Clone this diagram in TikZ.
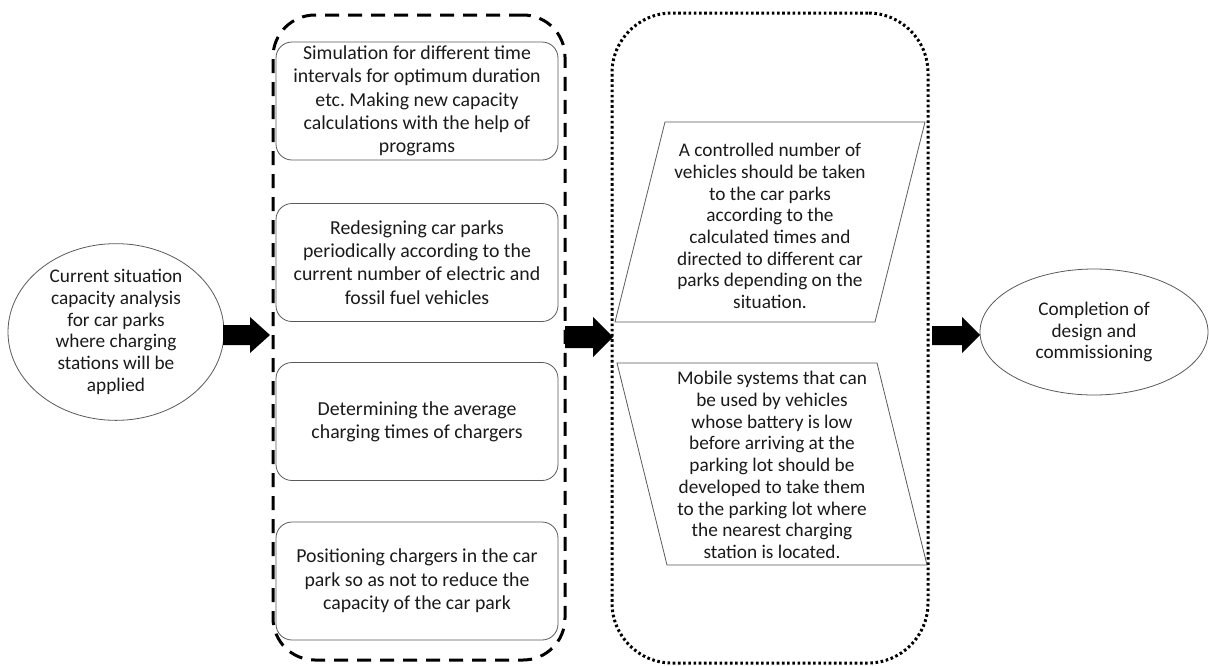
\documentclass[tikz,border=0pt]{standalone}
\usepackage{fontspec}
\setmainfont{Carlito}
\frenchspacing
\usetikzlibrary{shapes.geometric}
\definecolor{edge}{HTML}{595959}
\definecolor{ink}{HTML}{1A1A1A}
\tikzset{
  boxbig/.style={font=\fontsize{19.8}{23.3}\selectfont},
  boxsmall/.style={font=\fontsize{19.3}{21.7}\selectfont},
  roundbox/.style={draw=edge, line width=0.8pt, rounded corners=16pt, minimum width=282pt, minimum height=118pt, align=center, text=ink, boxbig, inner sep=0pt},
  oval/.style={draw=edge, line width=0.8pt, ellipse, align=center, text=ink, boxsmall, inner sep=0pt},
  paraedge/.style={draw=edge, line width=0.8pt},
  paratext/.style={align=center, text=ink, boxsmall, inner sep=0pt},
  dashgroup/.style={draw=black, line width=3pt, dash pattern=on 14pt off 9pt, rounded corners=42pt, minimum width=292pt, minimum height=645pt, inner sep=0pt},
  dotgroup/.style={draw=black, line width=3pt, dash pattern=on 2.6pt off 2.6pt, rounded corners=60pt, minimum width=316pt, minimum height=650pt, inner sep=0pt},
  blockarrow/.style={fill=black}
}
\begin{document}
\begin{tikzpicture}[x=1pt,y=-1pt]
\useasboundingbox (0,0) rectangle (1209,665);
% groups
\node[dashgroup] (grpA) at (419,337.5) {};
\node[dotgroup] (grpB) at (770,338) {};
% left ellipse
\node[oval, minimum width=216pt, minimum height=126pt] (start) at (116,332)
  {Current situation\\capacity analysis\\for car parks\\where charging\\stations will be\\applied};
% boxes
\node[roundbox] (b1) at (417,101)
  {Simulation for different time\\intervals for optimum duration\\etc. Making new capacity\\calculations with the help of\\programs};
\node[roundbox] (b2) at (417,262.5)
  {Redesigning car parks\\periodically according to the\\current number of electric and\\fossil fuel vehicles};
\node[roundbox] (b3) at (417,421.5)
  {Determining the average\\charging times of chargers};
\node[roundbox] (b4) at (417,581)
  {Positioning chargers in the car\\park so as not to reduce the\\capacity of the car park};
% parallelograms
\draw[paraedge] (665,122) -- (925,122) -- (875,322) -- (615,322) -- cycle;
\node[paratext] (p1) at (770,226)
  {A controlled number of\\vehicles should be taken\\to the car parks\\according to the\\calculated times and\\directed to different car\\parks depending on the\\situation.};
\draw[paraedge] (617,363) -- (877,363) -- (927,565) -- (667,565) -- cycle;
\node[paratext] (p2) at (772,465)
  {Mobile systems that can\\be used by vehicles\\whose battery is low\\before arriving at the\\parking lot should be\\developed to take them\\to the parking lot where\\the nearest charging\\station is located.};
% right ellipse
\node[oval, minimum width=228pt, minimum height=126pt] (finish) at (1094,332)
  {Completion of\\design and\\commissioning};
% block arrows
\fill[blockarrow] (223,325) -- (250,325) -- (250,317) -- (270,335) -- (250,353) -- (250,345) -- (223,345) -- cycle;
\fill[blockarrow] (565,326) -- (593,326) -- (593,317) -- (613,337) -- (593,357) -- (593,348) -- (565,348) -- cycle;
\fill[blockarrow] (932,326) -- (962,326) -- (962,317) -- (980,335) -- (962,353) -- (962,345) -- (932,345) -- cycle;
\end{tikzpicture}
\end{document}
